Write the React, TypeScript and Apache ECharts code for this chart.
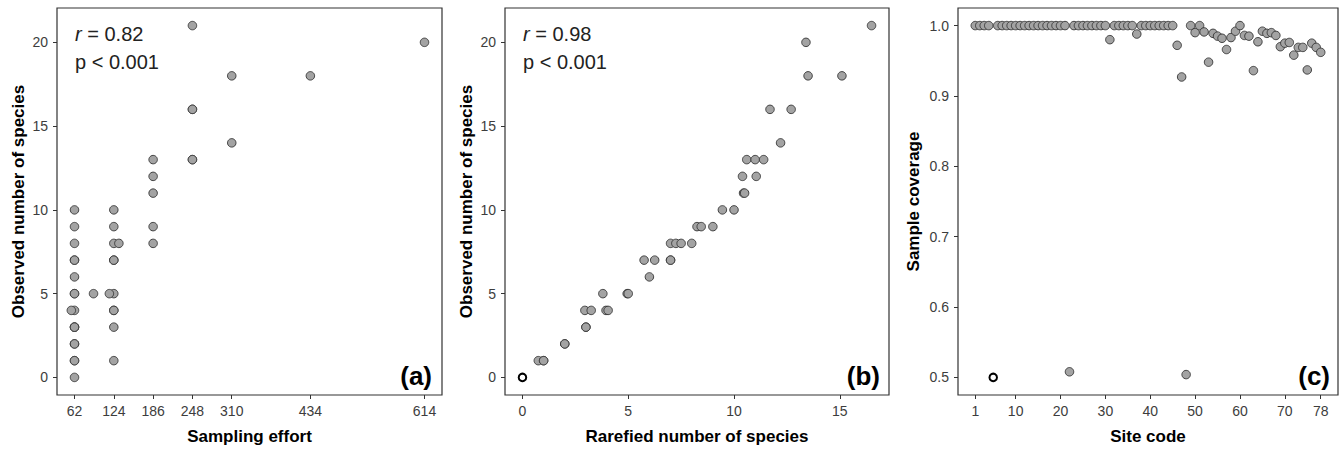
import React, { useEffect, useRef } from "react";
import * as echarts from "echarts";

// Panel (a): sampling effort vs observed number of species
const effortA = [
  62, 62, 62, 62, 62, 62, 62, 62, 62, 62, 62, 62, 62, 62, 62, 62, 62, 57,
  92,
  124, 124, 124, 124, 124, 124, 124, 124, 124, 124, 132, 117,
  186, 186, 186, 186, 186,
  248, 248, 248, 248, 248,
  310, 310, 434, 614,
];
const speciesA = [
  10, 9, 8, 7, 7, 6, 5, 4, 3, 3, 3, 2, 2, 1, 1, 0, 5, 4,
  5,
  10, 9, 8, 7, 7, 5, 4, 4, 3, 1, 8, 5,
  13, 12, 11, 9, 8,
  21, 16, 16, 13, 13,
  18, 14, 18, 20,
];

// Panel (b): rarefied vs observed number of species
const rarefiedB = [
  16.5, 13.4, 13.5, 15.1, 11.7, 12.7, 12.2, 10.6, 11.0, 11.4, 10.4, 11.05,
  10.45, 10.5, 9.45, 10.0, 8.25, 8.45, 9.0, 7.0, 7.25, 7.5, 8.0, 5.75, 6.25,
  7.0, 7.0, 6.0, 3.8, 4.95, 5.0, 2.95, 3.25, 3.95, 4.05, 3.0, 3.0, 2.0, 2.0,
  0.75, 1.0, 1.0,
];
const observedB = [
  21, 20, 18, 18, 16, 16, 14, 13, 13, 13, 12, 12,
  11, 11, 10, 10, 9, 9, 9, 8, 8, 8, 8, 7, 7,
  7, 7, 6, 5, 5, 5, 4, 4, 4, 4, 3, 3, 2, 2,
  1, 1, 1,
];
const hollowRarefiedB = [0];
const hollowObservedB = [0];

// Panel (c): sample coverage per site
const siteCodes = [
  1, 2, 3, 4, 6, 7, 8, 9, 10, 11, 12, 13, 14, 15, 16, 17, 18, 19, 20, 21, 22,
  23, 24, 25, 26, 27, 28, 29, 30, 31, 32, 33, 34, 35, 36, 37, 38, 39, 40, 41,
  42, 43, 44, 45, 46, 47, 48, 49, 50, 51, 52, 53, 54, 55, 56, 57, 58, 59, 60,
  61, 62, 63, 64, 65, 66, 67, 68, 69, 70, 71, 72, 73, 74, 75, 76, 77, 78,
];
const coverageC = [
  1.0, 1.0, 1.0, 1.0, 1.0, 1.0, 1.0, 1.0, 1.0, 1.0, 1.0, 1.0, 1.0, 1.0, 1.0,
  1.0, 1.0, 1.0, 1.0, 1.0, 0.508,
  1.0, 1.0, 1.0, 1.0, 1.0, 1.0, 1.0, 1.0, 0.98, 1.0, 1.0, 1.0, 1.0, 1.0, 0.988,
  1.0, 1.0, 1.0, 1.0, 1.0, 1.0, 1.0, 1.0, 0.972, 0.927, 0.504, 1.0, 0.99, 1.0,
  0.991, 0.948, 0.989, 0.985, 0.982, 0.966, 0.983, 0.992, 1.0, 0.986, 0.985,
  0.936, 0.977, 0.992, 0.989, 0.99, 0.986, 0.97, 0.975, 0.976, 0.958, 0.969,
  0.969, 0.937, 0.975, 0.969, 0.962,
];
const hollowSitesC = [5];
const hollowCoverageC = [0.5];

// Tick labels
const ticksXA = [62, 124, 186, 248, 310, 434, 614];
const ticksYAB = [0, 5, 10, 15, 20];
const ticksXB = [0, 5, 10, 15];
const ticksXC = [1, 10, 20, 30, 40, 50, 60, 70, 78];
const ticksYC = [0.5, 0.6, 0.7, 0.8, 0.9, 1.0];

const FONT = "'Liberation Sans', Arial, Helvetica, sans-serif";
const FILL = "#a3a3a3";
const EDGE = "#333333";

const zip = (xs: number[], ys: number[]) => xs.map((x, i) => [x, ys[i]]);

export default function App() {
  const ref = useRef<HTMLDivElement>(null);
  useEffect(() => {
    if (!ref.current) return;
    const chart = echarts.init(ref.current, null, { renderer: "svg" });

    const axisCommon = (ticks: number[], fmt?: (v: number) => string) => ({
      type: "value" as const,
      axisLine: { show: false, onZero: false },
      splitLine: { show: false },
      axisTick: {
        show: true,
        inside: false,
        length: 4,
        customValues: ticks,
        lineStyle: { color: EDGE, width: 1 },
      },
      axisLabel: {
        customValues: ticks,
        color: "#3d3d3d",
        fontSize: 14,
        fontFamily: FONT,
        margin: 9,
        formatter: fmt ? (v: number) => fmt(v) : (v: number) => String(v),
      },
      nameLocation: "middle" as const,
      nameTextStyle: {
        color: "#000",
        fontSize: 17,
        fontWeight: "bold" as const,
        fontFamily: FONT,
      },
    });

    const grid = (left: number, width: number) => ({
      left,
      top: 8,
      width,
      height: 389,
      show: true,
      borderColor: EDGE,
      borderWidth: 1.2,
      backgroundColor: "transparent",
    });

    const scatter = (
      xi: number,
      data: number[][],
      hollow = false
    ) => ({
      type: "scatter" as const,
      xAxisIndex: xi,
      yAxisIndex: xi,
      data,
      symbol: "circle",
      symbolSize: hollow ? 7.5 : 8.5,
      clip: false,
      itemStyle: hollow
        ? { color: "#ffffff", borderColor: "#000", borderWidth: 2, opacity: 1 }
        : { color: FILL, borderColor: EDGE, borderWidth: 0.9, opacity: 1 },
    });

    const annot = (x: number, r: string) => [
      {
        type: "text",
        left: x,
        top: 24,
        style: {
          rich: {
            i: { fontStyle: "italic", fontSize: 20, fontFamily: FONT, fill: "#222" },
            n: { fontSize: 20, fontFamily: FONT, fill: "#222" },
          },
          text: "{i|r}{n| = " + r + "}",
        },
      },
      {
        type: "text",
        left: x,
        top: 52,
        style: {
          text: "p < 0.001",
          fontSize: 20,
          fontFamily: FONT,
          fill: "#222",
        },
      },
    ];

    const panelLabel = (rightX: number, t: string) => ({
      type: "text",
      x: rightX,
      y: 376,
      style: {
        text: t,
        fontSize: 26,
        fontWeight: "bold",
        fontFamily: FONT,
        fill: "#000",
        align: "right",
        verticalAlign: "middle",
      },
    });

    chart.setOption({
      animation: false,
      grid: [grid(57, 385), grid(505, 384), grid(958, 380)],
      xAxis: [
        {
          ...axisCommon(ticksXA),
          gridIndex: 0,
          min: 34.4,
          max: 641.6,
          name: "Sampling effort",
          nameGap: 33,
        },
        {
          ...axisCommon(ticksXB),
          gridIndex: 1,
          min: -0.825,
          max: 17.325,
          name: "Rarefied number of species",
          nameGap: 33,
        },
        {
          ...axisCommon(ticksXC),
          gridIndex: 2,
          min: -2.85,
          max: 81.85,
          name: "Site code",
          nameGap: 33,
        },
      ],
      yAxis: [
        {
          ...axisCommon(ticksYAB),
          gridIndex: 0,
          min: -1.05,
          max: 22.05,
          name: "Observed number of species",
          nameGap: 30,
        },
        {
          ...axisCommon(ticksYAB),
          gridIndex: 1,
          min: -1.05,
          max: 22.05,
          name: "Observed number of species",
          nameGap: 30,
        },
        {
          ...axisCommon(ticksYC, (v) => v.toFixed(1)),
          gridIndex: 2,
          min: 0.475,
          max: 1.025,
          name: "Sample coverage",
          nameGap: 36,
        },
      ],
      series: [
        scatter(0, zip(effortA, speciesA)),
        scatter(1, zip(rarefiedB, observedB)),
        scatter(1, zip(hollowRarefiedB, hollowObservedB), true),
        scatter(2, zip(siteCodes, coverageC)),
        scatter(2, zip(hollowSitesC, hollowCoverageC), true),
      ],
      graphic: [
        ...annot(75, "0.82"),
        ...annot(523, "0.98"),
        panelLabel(432, "(a)"),
        panelLabel(880, "(b)"),
        panelLabel(1330, "(c)"),
      ],
    });

    return () => chart.dispose();
  }, []);

  return (
    <div
      ref={ref}
      style={{
        position: "fixed",
        left: 0,
        top: 0,
        width: 1339,
        height: 450,
        background: "#fff",
      }}
    />
  );
}
